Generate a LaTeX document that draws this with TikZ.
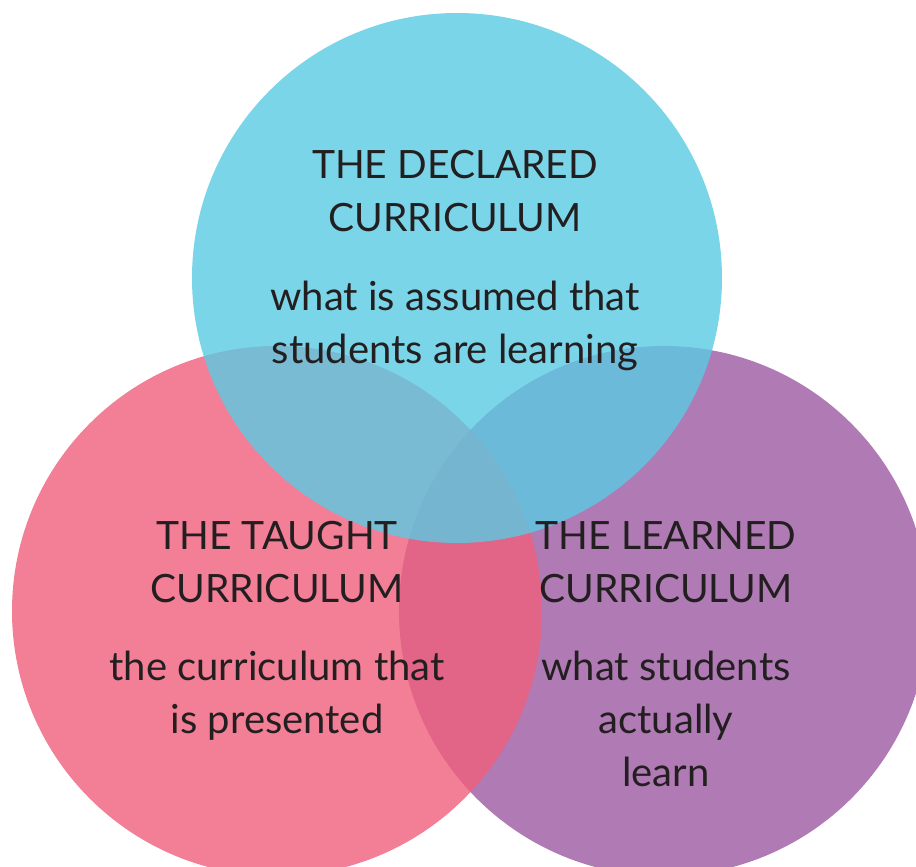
\documentclass[tikz,border=0pt]{standalone}
\usepackage{fontspec}
\setmainfont{Lato}
\definecolor{declaredblue}{RGB}{90,202,227}
\definecolor{taughtpink}{RGB}{239,95,124}
\definecolor{learnedpurple}{RGB}{176,122,181}
\definecolor{inktext}{RGB}{35,31,32}
\tikzset{
  venn/.style={circle, minimum size=530pt, inner sep=0pt},
  caption/.style={text=inktext, align=center, anchor=north, inner sep=0pt,
    font=\fontsize{39}{53}\selectfont},
  blurb/.style={caption, font=\fontsize{40}{53}\selectfont},
}
\begin{document}
\begin{tikzpicture}[x=1pt,y=-1pt]
    \useasboundingbox (0,0) rectangle (916,867);
    \clip (0,0) rectangle (916,867);

    % the three circles
    \node[venn, fill=learnedpurple] (learned) at (664,611) {};
    \node[venn, fill=taughtpink, fill opacity=0.8] (taught) at (277,611) {};
    \node[venn, fill=declaredblue, fill opacity=0.8] (declared) at (457,278) {};

    % texts
    \node[caption] (declaredtitle) at (455,150) {THE DECLARED\\CURRICULUM};
    \node[blurb] (declaredtext) at (455,281) {what is assumed that\\students are learning};

    \node[caption] (taughttitle) at (277,521) {THE TAUGHT\\CURRICULUM};
    \node[blurb] (taughttext) at (277,651) {the curriculum that\\is presented};

    \node[caption] (learnedtitle) at (666,521) {THE LEARNED\\CURRICULUM};
    \node[blurb] (learnedtext) at (666,651) {what students\\actually\\learn};
\end{tikzpicture}
\end{document}
